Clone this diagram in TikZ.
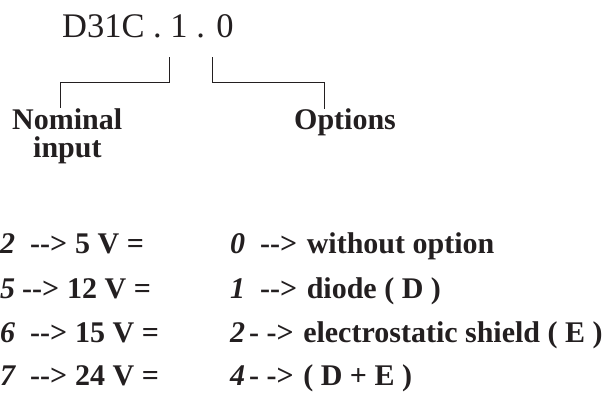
\documentclass[tikz,border=0pt]{standalone}
\usepackage{fontspec}
\setmainfont{Liberation Serif}
\definecolor{ink}{HTML}{231F20}
\begin{document}
\begin{tikzpicture}[x=1pt,y=1pt,
  txt/.style={anchor=base west, inner sep=0pt, text=ink, font=\fontsize{30}{36}\selectfont\bfseries},
  dig/.style={txt, font=\fontsize{30}{36}\selectfont\bfseries\itshape},
  title/.style={anchor=base west, inner sep=0pt, text=ink, font=\fontsize{34.5}{40}\selectfont},
  lead/.style={draw=ink, line width=0.9pt}]
\useasboundingbox (0,0) rectangle (610,-392);
% code
\node[title] (code) at (62,-37) {D31C . 1 . 0};
% labels
\node[txt] (nom) at (12,-129) {Nominal};
\node[txt] (inp) at (33,-157) {input};
\node[txt] (opt) at (294,-129) {Options};
\coordinate (c1) at (169,-57);
\coordinate (c2) at (212,-57);
\coordinate (n1) at (60,-108);
\coordinate (o1) at (324,-109);
\draw[lead] (c1) -- (169,-82) -| (n1);
\draw[lead] (c2) -- (212,-82) -| (o1);
% left column
\node[dig] (l1) at (0,-253) {2};
\node[txt] (la1) at (30,-253) {-{}->};
\node[txt] (lv1) at (75,-253) {5 V =};
\node[dig] (l2) at (0,-298) {5};
\node[txt] (la2) at (22,-298) {-{}->};
\node[txt] (lv2) at (67,-298) {12 V =};
\node[dig] (l3) at (0,-342) {6};
\node[txt] (la3) at (30,-342) {-{}->};
\node[txt] (lv3) at (75,-342) {15 V =};
\node[dig] (l4) at (0,-385) {7};
\node[txt] (la4) at (30,-385) {-{}->};
\node[txt] (lv4) at (75,-385) {24 V =};
% right column
\node[dig] (r1) at (230,-253) {0};
\node[txt] (ra1) at (260,-253) {-{}->\hspace{2pt} without option};
\node[dig] (r2) at (230,-298) {1};
\node[txt] (ra2) at (260,-298) {-{}->\hspace{2pt} diode ( D )};
\node[dig] (r3) at (230,-342) {2};
\node[txt] (ra3) at (249,-342) {- ->\hspace{2pt} electrostatic shield ( E )};
\node[dig] (r4) at (230,-385) {4};
\node[txt] (ra4) at (249,-385) {- ->\hspace{2pt} ( D + E )};
\end{tikzpicture}
\end{document}
